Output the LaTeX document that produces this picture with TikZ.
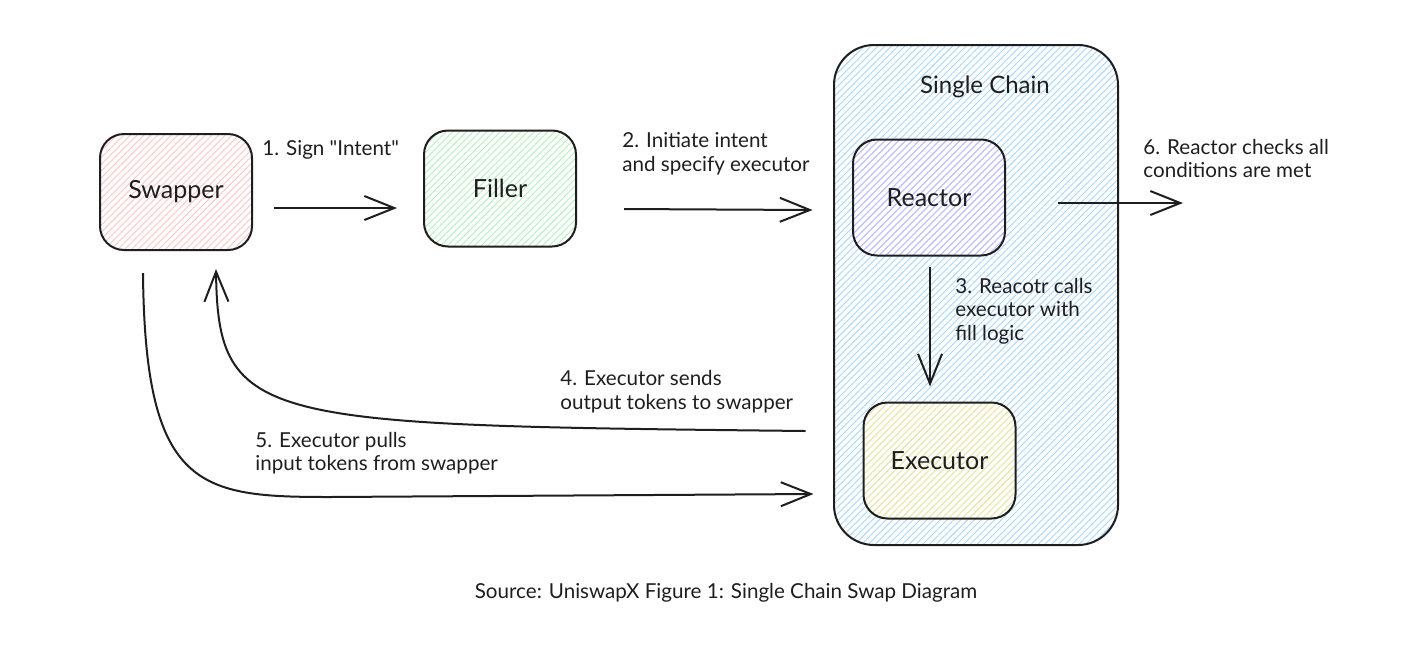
\documentclass[tikz,border=0pt]{standalone}
\usepackage{fontspec}
\setmainfont{Lato}[Ligatures=TeXOff]
\usetikzlibrary{arrows.meta,patterns.meta}
\definecolor{ink}{HTML}{1E1E1E}
\definecolor{cred}{HTML}{FFC4C4}
\definecolor{cgreen}{HTML}{B2F0BB}
\definecolor{cblue}{HTML}{A8D6FC}
\definecolor{cpurple}{HTML}{C4B8FF}
\definecolor{cyellow}{HTML}{FCEA99}
\begin{document}
\begin{tikzpicture}[x=0.5pt,y=-0.5pt,
  box/.style={draw=ink, line width=1pt, rounded corners=12pt, minimum width=76pt, minimum height=58pt, inner sep=0pt, text=ink, font=\fontsize{12.5}{15}\selectfont},
  hatch/.style={pattern={Lines[angle=45,distance=2.4pt,line width=0.45pt]}, pattern color=#1},
  lbl/.style={anchor=west, align=left, font=\fontsize{10.3}{11.8}\selectfont, text=ink, inner sep=0pt},
  arr/.style={draw=ink, line width=1pt, -{Straight Barb[length=15pt,width=12pt]}},
]
\useasboundingbox (0,0) rectangle (1426,666);

% container
\node[box, hatch=cblue, minimum width=142pt, minimum height=250pt, rounded corners=20pt] (chain) at (976,295) {};
\node[text=ink, font=\fontsize{12}{14}\selectfont] (chaintitle) at (985,87) {Single Chain};

% boxes
\node[box, hatch=cred] (swapper) at (176,192) {Swapper};
\node[box, hatch=cgreen] (filler) at (500,188.5) {Filler};
\node[box, hatch=cpurple] (reactor) at (929,197.5) {Reactor};
\node[box, hatch=cyellow] (executor) at (939.5,460.5) {Executor};

\coordinate (end6) at (1183,203);

% arrows
\draw[arr] ([shift={(21,16)}]swapper.east) -- ([shift={(-26,19.5)}]filler.west);
\draw[arr] ([shift={(47,20.5)}]filler.east) -- ([shift={(-21,-85)}]chain.west);
\draw[arr] ([shift={(52,5.5)}]reactor.east) -- (end6);
\draw[arr] ([shift={(1,10)}]reactor.south) -- ([shift={(-9.5,-15)}]executor.north);
\draw[arr] ([shift={(-57,-29.5)}]executor.west) .. controls (260,425) and (218,425) .. ([shift={(40,18)}]swapper.south);
\draw[arr] ([shift={(-33,22)}]swapper.south) .. controls (145,490) and (200,497) .. (330,497) -- ([shift={(-49,33.5)}]executor.west);

% labels
\node[lbl] (l1) at (262,150) {1. Sign "Intent"};
\node[lbl] (l2) at (622,153.5) {2. Initiate intent\\and specify executor};
\node[lbl] (l3) at (955,311) {3. Reacotr calls\\executor with\\fill logic};
\node[lbl] (l4) at (560,391.5) {4. Executor sends\\output tokens to swapper};
\node[lbl] (l5) at (255,453) {5. Executor pulls\\input tokens from swapper};
\node[lbl] (l6) at (1143,158.5) {6. Reactor checks all\\conditions are met};

\node[text=ink, font=\fontsize{10.3}{12}\selectfont] (caption) at (726,593) {Source: UniswapX Figure 1: Single Chain Swap Diagram};
\end{tikzpicture}
\end{document}
